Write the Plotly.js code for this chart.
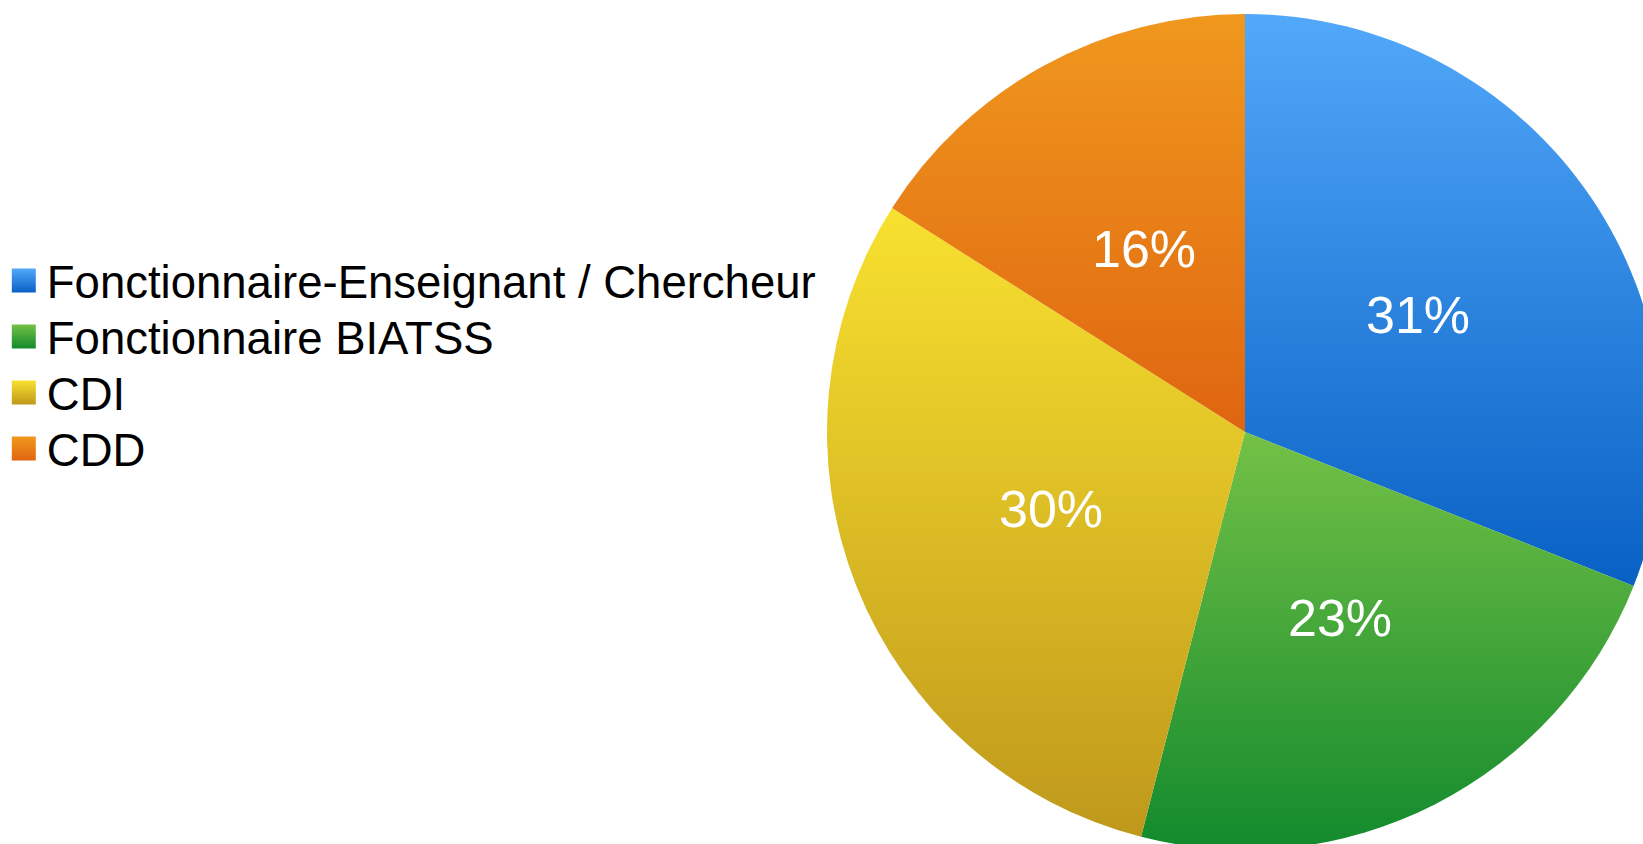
<!DOCTYPE html>
<html>
<head>
<meta charset="utf-8">
<script src="https://cdn.plot.ly/plotly-3.0.1.min.js"></script>
<style>
html, body { margin: 0; padding: 0; overflow: hidden; background: #fff; }
#chart { width: 1700px; height: 900px; }
</style>
</head>
<body>
<div id="chart"></div>
<script>
// Data
const categories = ["Fonctionnaire-Enseignant / Chercheur", "Fonctionnaire BIATSS", "CDI", "CDD"];
const shares = [31, 23, 30, 16];
// Gradient colours (top, bottom) per category
const topColors = ["#52a8f9", "#74c146", "#f8e12f", "#f0981e"];
const bottomColors = ["#0860c4", "#128a2d", "#bf981b", "#df6510"];

const W = 1700, H = 900;
const CX = 1245, CY = 432, R = 418;   // pie centre / radius in px
const FONT = "Liberation Sans, Arial, sans-serif";

const trace = {
  type: "pie",
  labels: categories,
  values: shares,
  sort: false,
  direction: "clockwise",
  rotation: 0,
  textinfo: "none",
  marker: { colors: topColors, line: { width: 0 } },
  domain: { x: [(CX - R) / W, (CX + R) / W], y: [(H - CY - R) / H, (H - CY + R) / H] },
  hoverinfo: "label+percent"
};

// percentage labels placed at half radius on each slice's mid-angle
const total = shares.reduce((a, b) => a + b, 0);
let cum = 0;
const annotations = shares.map((v) => {
  const mid = (cum + v / 2) / total * 2 * Math.PI;
  cum += v;
  const px = CX + 0.5 * R * Math.sin(mid);
  const py = CY - 0.5 * R * Math.cos(mid);
  return {
    xref: "paper", yref: "paper",
    x: px / W, y: 1 - py / H,
    xanchor: "center", yanchor: "middle",
    text: Math.round(v / total * 100) + "%",
    showarrow: false,
    font: { family: FONT, size: 52, color: "#ffffff" }
  };
});

const layout = {
  width: W,
  height: H,
  margin: { l: 0, r: 0, t: 0, b: 0, pad: 0 },
  paper_bgcolor: "#ffffff",
  showlegend: true,
  legend: {
    x: 0.004, xanchor: "left",
    y: (H - 366) / H, yanchor: "middle",
    font: { family: FONT, size: 45.5, color: "#000000" },
    bgcolor: "rgba(0,0,0,0)",
    borderwidth: 0,
    traceorder: "normal"
  },
  annotations: annotations,
  font: { family: FONT }
};

function applyGradients(gd) {
  const svg = gd.querySelector("svg.main-svg");
  const ns = "http://www.w3.org/2000/svg";
  let defs = svg.querySelector("defs");
  if (!defs) { defs = document.createElementNS(ns, "defs"); svg.insertBefore(defs, svg.firstChild); }
  categories.forEach((c, i) => {
    const id = "sliceGrad" + i;
    if (document.getElementById(id)) return;
    const g = document.createElementNS(ns, "linearGradient");
    g.setAttribute("id", id);
    g.setAttribute("x1", "0"); g.setAttribute("y1", "0");
    g.setAttribute("x2", "0"); g.setAttribute("y2", "1");
    const s1 = document.createElementNS(ns, "stop");
    s1.setAttribute("offset", "0"); s1.setAttribute("stop-color", topColors[i]);
    const s2 = document.createElementNS(ns, "stop");
    s2.setAttribute("offset", "1"); s2.setAttribute("stop-color", bottomColors[i]);
    g.appendChild(s1); g.appendChild(s2);
    defs.appendChild(g);
  });
  gd.querySelectorAll(".slice path.surface").forEach((p, i) => {
    p.style.fill = "url(#sliceGrad" + (i % categories.length) + ")";
  });
  const items = gd.querySelectorAll(".legend .traces");
  let y0 = null;
  items.forEach((t, i) => {
    const p = t.querySelector(".legendpoints path");
    if (p) {
      p.style.fill = "url(#sliceGrad" + i + ")";
      p.style.stroke = "none";
      p.setAttribute("transform", "translate(17,0) scale(2)");
    }
    // tighten line spacing to 56px
    const tr = t.getAttribute("transform") || "";
    const m = tr.match(/translate\(\s*([-\d.]+)[ ,]+([-\d.]+)\s*\)/);
    if (m) {
      const x = parseFloat(m[1]), y = parseFloat(m[2]);
      if (y0 === null) y0 = y + 8;
      t.setAttribute("transform", "translate(" + x + "," + (y0 + i * 56) + ")");
    }
  });
}

Plotly.newPlot("chart", [trace], layout, { displayModeBar: false, staticPlot: true }).then(applyGradients);
</script>
</body>
</html>
